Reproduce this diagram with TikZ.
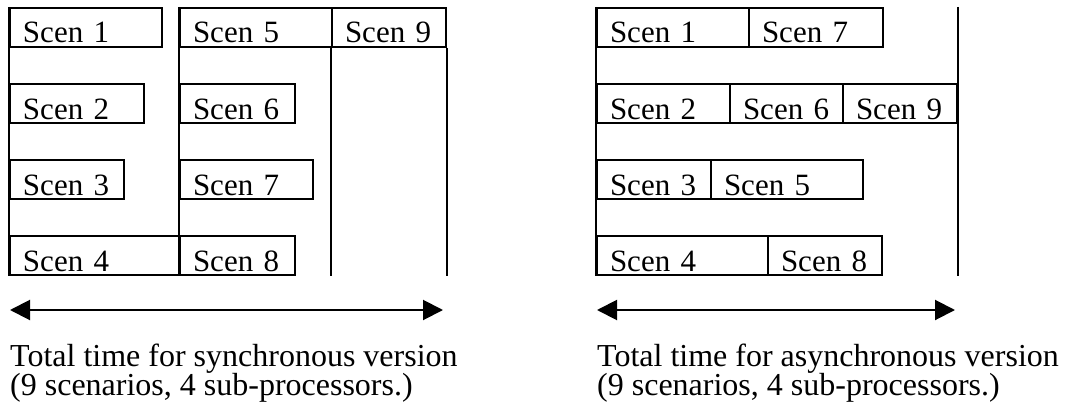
\documentclass[tikz,border=0pt]{standalone}
\usepackage{fontspec}
\setmainfont{Liberation Serif}
\usetikzlibrary{arrows.meta}
\tikzset{
  scen/.style={draw, line width=2pt, anchor=north west,
    inner xsep=13pt, inner ysep=0pt,
    minimum width=#1pt, text width=#1pt-26pt, minimum height=39pt,
    text height=31pt, text depth=0pt, align=left,
    font=\fontsize{31}{37}\selectfont},
  rail/.style={line width=2pt},
  span/.style={line width=2pt,
    {Triangle[length=20pt,width=20pt]}-{Triangle[length=20pt,width=20pt]}},
  caption/.style={anchor=base west, inner sep=0pt,
    font=\fontsize{32}{26}\selectfont}
}
\begin{document}
\begin{tikzpicture}[x=1pt,y=-1pt]
\useasboundingbox (0,0) rectangle (1065,412);

% synchronous schedule
\node[scen=152] (s1) at (9,7)     {\mbox{Scen 1}};
\node[scen=152] (s5) at (179,7)   {\mbox{Scen 5}};
\node[scen=114] (s9) at (331,7)   {\mbox{Scen 9}};
\node[scen=134] (s2) at (9,83)    {\mbox{Scen 2}};
\node[scen=115] (s6) at (179,83)  {\mbox{Scen 6}};
\node[scen=114] (s3) at (9,159)   {\mbox{Scen 3}};
\node[scen=133] (s7) at (179,159) {\mbox{Scen 7}};
\node[scen=170] (s4) at (9,235)   {\mbox{Scen 4}};
\node[scen=115] (s8) at (179,235) {\mbox{Scen 8}};

\draw[rail] (s1.north west) -- (s4.south west);
\draw[rail] (s5.north west) -- (s8.south west);
\draw[rail] (s9.south west) -- (s9.south west |- s8.south);
\draw[rail] (s9.south east) -- (s9.south east |- s8.south);

% asynchronous schedule
\node[scen=152] (r1) at (596,7)   {\mbox{Scen 1}};
\node[scen=134] (r7) at (748,7)   {\mbox{Scen 7}};
\node[scen=133] (r2) at (596,83)  {\mbox{Scen 2}};
\node[scen=113] (r6) at (729,83)  {\mbox{Scen 6}};
\node[scen=114] (r9) at (842,83)  {\mbox{Scen 9}};
\node[scen=114] (r3) at (596,159) {\mbox{Scen 3}};
\node[scen=152] (r5) at (710,159) {\mbox{Scen 5}};
\node[scen=171] (r4) at (596,235) {\mbox{Scen 4}};
\node[scen=114] (r8) at (767,235) {\mbox{Scen 8}};

\draw[rail] (r1.north west) -- (r4.south west);
\draw[rail] (r9.east |- r1.north) -- (r9.east |- r8.south);

% total time spans
\coordinate (a1l) at (10,310);
\coordinate (a1r) at (443,310);
\coordinate (a2l) at (597,310);
\coordinate (a2r) at (955,310);
\draw[span] (a1l) -- (a1r);
\draw[span] (a2l) -- (a2r);

\node[caption] (c1a) at (10,366)  {Total time for synchronous version};
\node[caption] (c1b) at (10,395)  {(9 scenarios, 4 sub-processors.)};
\node[caption] (c2a) at (597,366) {Total time for asynchronous version};
\node[caption] (c2b) at (597,395) {(9 scenarios, 4 sub-processors.)};
\end{tikzpicture}
\end{document}
